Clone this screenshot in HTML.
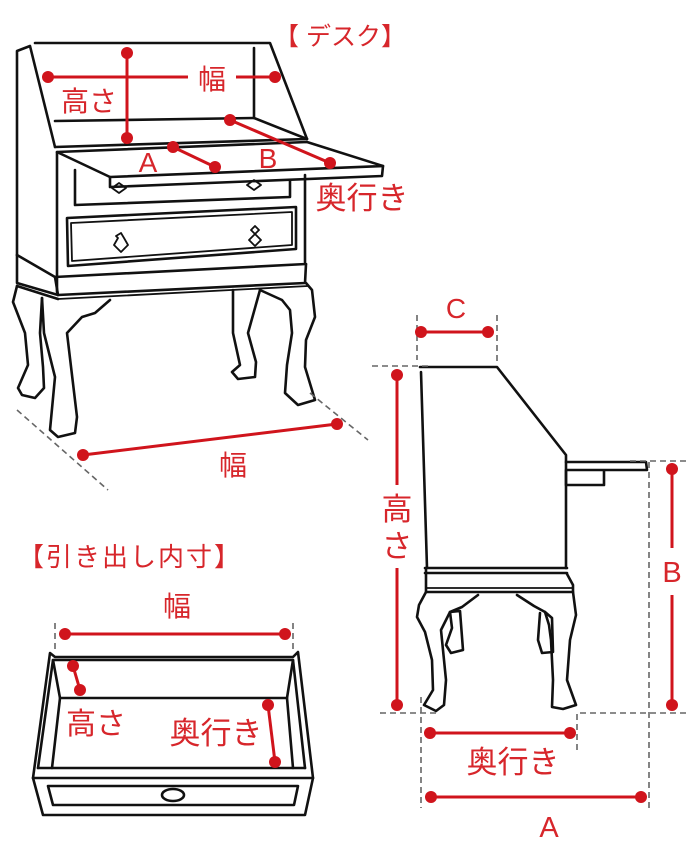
<!DOCTYPE html>
<html><head><meta charset="utf-8"><style>
html,body{margin:0;padding:0;background:#fff}
svg{display:block}
text{font-family:"Liberation Sans","Noto Sans CJK JP",sans-serif;fill:#d7262b}
</style></head><body>
<svg width="690" height="863" viewBox="0 0 690 863" xmlns="http://www.w3.org/2000/svg">
<g fill="none" stroke="#111" stroke-width="2.6" stroke-linejoin="round" stroke-linecap="round">
<path d="M35 43 L270 43 L307 139"/>
<path d="M17 255 L17 51 L30 46 L55 147"/>
<path d="M254 48 L254 118 L307 139"/>
<path d="M55 121 L254 118"/>
<path d="M55 147 L307 139"/>
<path d="M57 152 L307 142 L383 166 L110 177 Z"/>
<path d="M110 177 L110 187 L382 176 L383 166"/>
<path d="M57 152 L57 292"/>
<path d="M305 175 L305 262"/>
<path d="M75 170 L75 205 L290 197 L290 180"/>
<path d="M67 218 L296 207 L296 249 L68 266 Z"/>
<path d="M71 223 L292 212 L292 245 L72 261 Z" stroke-width="1.8"/>
<path d="M112 188 L119 183 L126 188 L119 193 Z" stroke-width="1.8"/>
<path d="M247 185 L254 180 L261 185 L254 190 Z" stroke-width="1.8"/>
<path d="M116 236 L121 233 L124 238 L128 245 L121 252 L114 245 L118 238 Z" stroke-width="1.8"/>
<path d="M251 230 L255 226 L259 230 L255 234 Z M255 234 L261 240 L255 246 L249 240 Z" stroke-width="1.8"/>
<path d="M17 255 L55 277 L306 264"/>
<path d="M17 255 L17 283 L58 295 L305 283 L306 264"/>
<path d="M55 277 L58 295"/>
<path d="M58 299 L308 286" stroke-width="1.8"/>
<path d="M17 286 L58 299"/>
<path d="M17 286 L13 302 L25 333 L28 365 L18 388 L22 395 L35 398 L44 388 L43 367 L40 333 L42 298"/>
<path d="M42 298 L44 333 L55 377 L50 430 L58 437 L75 433 L77 417 L67 333 L82 317 L95 313 L110 300"/>
<path d="M233 290 L233 333 L240 365 L232 372 L238 379 L255 377 L256 362 L248 333 L260 290"/>
<path d="M260 290 L282 300 L290 310 L292 333 L287 365 L285 393 L298 405 L315 400 L305 367 L306 340 L315 317 L312 290 L306 283"/>
<path d="M420 367 L497 367 L566 455 L566 568"/>
<path d="M421 372 L427 568"/>
<path d="M425 568 L567 568 M425 573 L567 573"/>
<path d="M426 568 L426 592 L573 592 L573 585 L567 574"/>
<path d="M426 588 L572 588" stroke-width="1.8"/>
<path d="M566 462 L646 462 L647 470 L566 470 M566 470 L566 485 L604 485 L604 470"/>
<path d="M426 592 L419 605 L417 617 L425 632 L432 660 L433 690 L424 705 L436 711 L444 705 L446 680 L442 640 L441 630 L450 612 L462 607 L478 595"/>
<path d="M450 612 L460 611 L463 650 L451 653 L446 645 L452 628 Z"/>
<path d="M573 592 L576 615 L570 640 L567 680 L576 705 L563 709 L552 707 L553 680 L551 640 L549 625 L545 612 L534 606 L517 595"/>
<path d="M545 612 L552 618 L553 652 L542 653 L538 640 L540 613"/>
<path d="M50 653 L55 657 L293 657 L298 652 L313 778 L33 778 Z"/>
<path d="M53 660 L293 660 L287 698 L60 698 Z"/>
<path d="M38 768 L305 768"/>
<path d="M38 768 L53 660 M52 768 L60 698 M305 768 L293 660 M293 768 L287 698"/>
<path d="M33 778 L43 815 L305 815 L313 778"/>
<path d="M48 786 L298 786 L294 805 L53 805 Z"/>
<ellipse cx="173" cy="795" rx="11" ry="6"/>
</g>
<g fill="none" stroke="#666" stroke-width="1.6" stroke-dasharray="6,4">
<path d="M17 410 L108 490"/>
<path d="M310 393 L368 440"/>
<path d="M417 315 L417 360 M497 315 L497 362"/>
<path d="M372 366 L432 366"/>
<path d="M630 461 L690 461"/>
<path d="M649 462 L649 808"/>
<path d="M380 713 L437 713"/>
<path d="M421 697 L421 808"/>
<path d="M577 750 L577 713 L690 713"/>
<path d="M55 623 L55 651 M293 623 L293 651"/>
</g>
<g stroke="#d0141c" stroke-width="3" fill="none">
<path d="M127 53 L127 138"/>
<path d="M48 77 L188 77 M236 77 L275 77"/>
<path d="M173 147 L215 167"/>
<path d="M230 120 L330 163"/>
<path d="M83 455 L337 424"/>
<path d="M421 332 L488 332"/>
<path d="M397 372 L397 485 M397 568 L397 705"/>
<path d="M672 469 L672 548 M672 595 L672 705"/>
<path d="M430 733 L570 733"/>
<path d="M431 797 L641 797"/>
<path d="M65 634 L285 634"/>
<path d="M73 666 L80 690"/>
<path d="M268 705 L275 762"/>
</g>
<g fill="#d0141c">
<circle cx="127" cy="53" r="6"/><circle cx="127" cy="138" r="6"/>
<circle cx="48" cy="77" r="6"/><circle cx="275" cy="77" r="6"/>
<circle cx="173" cy="147" r="6"/><circle cx="215" cy="167" r="6"/>
<circle cx="230" cy="120" r="6"/><circle cx="330" cy="163" r="6"/>
<circle cx="83" cy="455" r="6"/><circle cx="337" cy="424" r="6"/>
<circle cx="421" cy="332" r="6"/><circle cx="488" cy="332" r="6"/>
<circle cx="397" cy="375" r="6"/><circle cx="397" cy="705" r="6"/>
<circle cx="672" cy="469" r="6"/><circle cx="672" cy="705" r="6"/>
<circle cx="430" cy="733" r="6"/><circle cx="570" cy="733" r="6"/>
<circle cx="431" cy="797" r="6"/><circle cx="641" cy="797" r="6"/>
<circle cx="65" cy="634" r="6"/><circle cx="285" cy="634" r="6"/>
<circle cx="73" cy="666" r="6"/><circle cx="80" cy="690" r="6"/>
<circle cx="268" cy="705" r="6"/><circle cx="275" cy="762" r="6"/>
</g>
<g font-size="28" text-anchor="middle">
<text x="340" y="45" font-size="25">【 デスク】</text>
<text x="212" y="89">幅</text>
<text x="89" y="111">高さ</text>
<text x="148" y="172">A</text>
<text x="268" y="168">B</text>
<text x="362" y="209" font-size="31">奥行き</text>
<text x="233" y="475">幅</text>
<text x="456" y="318">C</text>
<text x="397" y="520" font-size="31">高</text>
<text x="397" y="557" font-size="31">さ</text>
<text x="672" y="582" font-size="29">B</text>
<text x="513" y="773" font-size="31">奥行き</text>
<text x="549" y="837" font-size="29">A</text>
<text x="130" y="566" font-size="26" letter-spacing="2">【引き出し内寸】</text>
<text x="177" y="616">幅</text>
<text x="96" y="734" font-size="30">高さ</text>
<text x="216" y="744" font-size="31">奥行き</text>
</g>
</svg>
</body></html>
